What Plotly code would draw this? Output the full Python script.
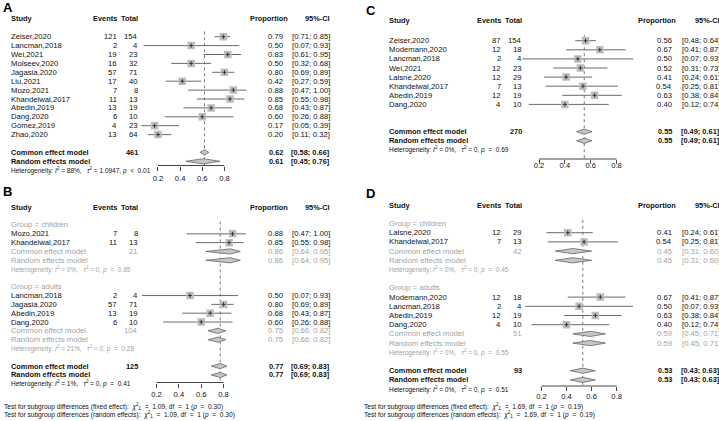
import plotly.graph_objects as go

# ---------------- DATA ----------------
# Panel A
a_study = ["Zeiser,2020", "Lancman,2018", "Wei,2021", "Moiseev,2020", "Jagasia,2020", "Liu,2021",
           "Mozo,2021", "Khandelwal,2017", "Abedin,2019", "Dang,2020", "Gómez,2019", "Zhao,2020"]
a_events = [121, 2, 19, 16, 57, 17, 7, 11, 13, 6, 4, 13]
a_total = [154, 4, 23, 32, 71, 40, 8, 13, 19, 10, 23, 64]
a_prop = [0.79, 0.50, 0.83, 0.50, 0.80, 0.42, 0.88, 0.85, 0.68, 0.60, 0.17, 0.20]
a_lower = [0.71, 0.07, 0.61, 0.32, 0.69, 0.27, 0.47, 0.55, 0.43, 0.26, 0.05, 0.11]
a_upper = [0.85, 0.93, 0.95, 0.68, 0.89, 0.59, 1.00, 0.98, 0.87, 0.88, 0.39, 0.32]
a_common = [0.62, 0.58, 0.66]
a_random = [0.61, 0.45, 0.76]
a_n = 461
a_het = ["88%", "1.0947", "&lt;", "0.01"]

# Panel B (subgroups)
b_child_study = ["Mozo,2021", "Khandelwal,2017"]
b_child_events = [7, 11]
b_child_total = [8, 13]
b_child_prop = [0.88, 0.85]
b_child_lower = [0.47, 0.55]
b_child_upper = [1.00, 0.98]
b_child_common = [0.86, 0.64, 0.95]
b_child_random = [0.86, 0.64, 0.95]
b_child_n = 21
b_child_het = ["0%", "0", "=", "0.85"]

b_adult_study = ["Lancman,2018", "Jagasia,2020", "Abedin,2019", "Dang,2020"]
b_adult_events = [2, 57, 13, 6]
b_adult_total = [4, 71, 19, 10]
b_adult_prop = [0.50, 0.80, 0.68, 0.60]
b_adult_lower = [0.07, 0.69, 0.43, 0.26]
b_adult_upper = [0.93, 0.89, 0.87, 0.88]
b_adult_common = [0.75, 0.66, 0.82]
b_adult_random = [0.75, 0.66, 0.82]
b_adult_n = 104
b_adult_het = ["21%", "0", "=", "0.28"]

b_common = [0.77, 0.69, 0.83]
b_random = [0.77, 0.69, 0.83]
b_n = 125
b_het = ["1%", "0", "=", "0.41"]
b_test = ["1.09", "1", "0.30"]

# Panel C
c_study = ["Zeiser,2020", "Modemann,2020", "Lancman,2018", "Wei,2021", "Laisne,2020",
           "Khandelwal,2017", "Abedin,2019", "Dang,2020"]
c_events = [87, 12, 2, 12, 12, 7, 12, 4]
c_total = [154, 18, 4, 23, 29, 13, 19, 10]
c_prop = [0.56, 0.67, 0.50, 0.52, 0.41, 0.54, 0.63, 0.40]
c_lower = [0.48, 0.41, 0.07, 0.31, 0.24, 0.25, 0.38, 0.12]
c_upper = [0.64, 0.87, 0.93, 0.73, 0.61, 0.81, 0.84, 0.74]
c_common = [0.55, 0.49, 0.61]
c_random = [0.55, 0.49, 0.61]
c_n = 270
c_het = ["0%", "0", "=", "0.69"]

# Panel D (subgroups)
d_child_study = ["Laisne,2020", "Khandelwal,2017"]
d_child_events = [12, 7]
d_child_total = [29, 13]
d_child_prop = [0.41, 0.54]
d_child_lower = [0.24, 0.25]
d_child_upper = [0.61, 0.81]
d_child_common = [0.45, 0.31, 0.60]
d_child_random = [0.45, 0.31, 0.60]
d_child_n = 42
d_child_het = ["0%", "0", "=", "0.45"]

d_adult_study = ["Modemann,2020", "Lancman,2018", "Abedin,2019", "Dang,2020"]
d_adult_events = [12, 2, 12, 4]
d_adult_total = [18, 4, 19, 10]
d_adult_prop = [0.67, 0.50, 0.63, 0.40]
d_adult_lower = [0.41, 0.07, 0.38, 0.12]
d_adult_upper = [0.87, 0.93, 0.84, 0.74]
d_adult_common = [0.59, 0.45, 0.71]
d_adult_random = [0.59, 0.45, 0.71]
d_adult_n = 51
d_adult_het = ["0%", "0", "=", "0.55"]

d_common = [0.53, 0.43, 0.63]
d_random = [0.53, 0.43, 0.63]
d_n = 93
d_het = ["0%", "0", "=", "0.51"]
d_test = ["1.69", "1", "0.19"]

tick_vals = [0.2, 0.4, 0.6, 0.8]
tick_text = ["0.2", "0.4", "0.6", "0.8"]

# ---------------- STYLE ----------------
W, H = 719, 421
FONT = "Liberation Sans, Arial, Helvetica, sans-serif"
BLACK = "#111111"
GREY_T = "#a3a3a3"
SQ_FILL = "#bdbdbd"
CI_COL = "#6a6a6a"
DIA_FILL = "#c6c6c6"
DIA_LINE = "#666666"
REF_COL = "#7a7a7a"
FS = 7.7        # regular text
FS_B = 7.4      # bold text
FS_HET = 6.5    # heterogeneity line
FS_TEST = 6.6   # subgroup test lines
SP = "&nbsp;"

fig = go.Figure()
ann = []
shp = []


def fmt(v):
    return f"{v:.2f}"


def ci_txt(lo, hi):
    return f"[{lo:.2f}; {hi:.2f}]"


def make_panel(k, row0, sp, dom, x0, xu, axis_px, cols, standoff):
    sfx = "" if k == 1 else str(k)
    r_top = (dom[0] - row0) / sp
    r_bot = (dom[1] - row0) / sp
    fig.update_layout(**{
        "xaxis" + sfx: dict(domain=[x0 / W, (x0 + xu) / W], range=[0, 1], anchor="free",
                            position=1 - axis_px / H, side="bottom",
                            tickvals=tick_vals, ticktext=tick_text, ticks="outside", ticklen=4,
                            tickwidth=1, tickcolor="#444444", showline=False, showgrid=False,
                            zeroline=False, ticklabelstandoff=standoff,
                            tickfont=dict(family=FONT, size=7.6, color=BLACK), fixedrange=True),
        "yaxis" + sfx: dict(domain=[1 - dom[1] / H, 1 - dom[0] / H], range=[r_bot, r_top],
                            visible=False, anchor="free", position=0, fixedrange=True),
    })
    P = dict(xr="x" + sfx, yr="y" + sfx, sp=sp, cols=cols, axis_row=(axis_px - row0) / sp)
    shp.append(dict(type="line", xref=P["xr"], yref="paper", x0=tick_vals[0], x1=tick_vals[-1],
                    y0=1 - axis_px / H, y1=1 - axis_px / H, line=dict(color="#444444", width=1)))
    return P


def text(P, col_px, row, s, anchor="left", color=BLACK, size=None, bold=False):
    if size is None:
        size = FS_B if bold else FS
    if bold:
        s = f"<b>{s}</b>"
    ann.append(dict(x=col_px / W, xref="paper", y=row, yref=P["yr"], text=s, showarrow=False,
                    xanchor=anchor, yanchor="middle", borderpad=0, borderwidth=0,
                    font=dict(family=FONT, size=size, color=color)))


def header(P, row):
    c = P["cols"]
    text(P, c["study"], row, "Study", bold=True)
    text(P, c["ev"], row, "Events", "right", bold=True)
    text(P, c["tot"], row, "Total", "right", bold=True)
    text(P, c["ph"], row, "Proportion", "right", bold=True)
    text(P, c["ci"], row, "95%-CI", "right", bold=True)


def study_rows(P, rows, names, ev, tot, prop, lo, hi):
    c = P["cols"]
    xs, ys = [], []
    for r, n, e, t, p, l, h in zip(rows, names, ev, tot, prop, lo, hi):
        text(P, c["study"], r, n)
        text(P, c["ev"], r, str(e), "right")
        text(P, c["tot"], r, str(t), "right")
        text(P, c["est"], r, fmt(p), "right")
        text(P, c["ci"], r, ci_txt(l, h), "right")
        xs += [l, h, None]
        ys += [r, r, None]
    fig.add_trace(go.Scatter(x=xs, y=ys, xaxis=P["xr"], yaxis=P["yr"], mode="lines",
                             line=dict(color=CI_COL, width=1), hoverinfo="skip"))
    fig.add_trace(go.Scatter(x=prop, y=rows, xaxis=P["xr"], yaxis=P["yr"], mode="markers",
                             marker=dict(symbol="square", size=7.5, color=SQ_FILL, line=dict(width=0)),
                             hoverinfo="skip"))
    fig.add_trace(go.Scatter(x=prop, y=rows, xaxis=P["xr"], yaxis=P["yr"], mode="markers",
                             marker=dict(symbol="cross-thin", size=3, line=dict(color="#333333", width=1)),
                             hoverinfo="skip"))


def model_row(P, row, label, n, vals, color=BLACK, bold=True):
    c = P["cols"]
    est, lo, hi = vals
    text(P, c["study"], row, label, color=color, bold=bold)
    if n is not None:
        text(P, c["tot"], row, str(n), "right", color=color, bold=bold)
    text(P, c["est"], row, fmt(est), "right", color=color, bold=bold)
    text(P, c["ci"], row, ci_txt(lo, hi), "right", color=color, bold=bold)
    hh = 2.6 / P["sp"]
    fig.add_trace(go.Scatter(x=[lo, est, hi, est, lo], y=[row, row - hh, row, row + hh, row],
                             xaxis=P["xr"], yaxis=P["yr"], mode="lines", fill="toself",
                             fillcolor=DIA_FILL, line=dict(color=DIA_LINE, width=0.8),
                             hoverinfo="skip"))


def het_row(P, row, het, color=BLACK):
    s = (f"Heterogeneity: <i>I</i><sup>2</sup>{SP}={SP}{het[0]},{SP}{SP}{SP}<i>τ</i><sup>2</sup>{SP}={SP}{het[1]},"
         f"{SP}<i>p</i>{SP}{SP}{het[2]}{SP}{SP}{het[3]}")
    text(P, P["cols"]["study"], row, s, color=color, size=FS_HET)


def test_rows(P, x_px, rows, t):
    for r, kind in zip(rows, ["fixed effect", "random effects"]):
        s = (f"Test for subgroup differences ({kind}):{SP}{SP}<i>χ</i><sup>2</sup><sub>{t[1]}</sub>"
             f"{SP}{SP}={SP}{SP}{t[0]}, df{SP}{SP}={SP}{SP}{t[1]}{SP}(<i>p</i>{SP}{SP}={SP}{SP}{t[2]})")
        text(P, x_px, r, s, size=FS_TEST)


def ref_line(P, x, top_row):
    fig.add_trace(go.Scatter(x=[x, x], y=[top_row, P["axis_row"]], xaxis=P["xr"], yaxis=P["yr"],
                             mode="lines", line=dict(color=REF_COL, width=1, dash="dot"),
                             hoverinfo="skip"))


def panel_label(x_px, y_px, s):
    ann.append(dict(x=x_px / W, y=1 - y_px / H, xref="paper", yref="paper", text=f"<b>{s}</b>",
                    showarrow=False, xanchor="left", yanchor="middle",
                    font=dict(family=FONT, size=13, color="#000000")))


cols_left = dict(study=11, ev=117.3, tot=137.7, est=282.7, ph=287.5, ci=329.5)
cols_right = dict(study=389.3, ev=501.5, tot=521.5, est=671.7, ph=675.5, ci=719.5)

# ---------------- PANEL A ----------------
PA = make_panel(1, 36.7, 8.9, (0, 188), 135.8, 110.8, 165.5, cols_left, 1)
ref_line(PA, a_common[0], -0.6)
header(PA, -2)
study_rows(PA, list(range(len(a_study))), a_study, a_events, a_total, a_prop, a_lower, a_upper)
model_row(PA, 13, "Common effect model", a_n, a_common)
model_row(PA, 14, "Random effects model", None, a_random)
het_row(PA, 15, a_het)
panel_label(1, 8, "A")

# ---------------- PANEL B ----------------
PB = make_panel(2, 225, 8.82, (188, 421), 134.2, 111.7, 382.5, cols_left, 0)
ref_line(PB, b_common[0], -0.4)
header(PB, -2)
text(PB, cols_left["study"], 0, "Group = children", color=GREY_T)
study_rows(PB, [1, 2], b_child_study, b_child_events, b_child_total, b_child_prop,
           b_child_lower, b_child_upper)
model_row(PB, 3, "Common effect model", b_child_n, b_child_common, GREY_T, False)
model_row(PB, 4, "Random effects model", None, b_child_random, GREY_T, False)
het_row(PB, 5, b_child_het, GREY_T)
text(PB, cols_left["study"], 7, "Group = adults", color=GREY_T)
study_rows(PB, [8, 9, 10, 11], b_adult_study, b_adult_events, b_adult_total, b_adult_prop,
           b_adult_lower, b_adult_upper)
model_row(PB, 12, "Common effect model", b_adult_n, b_adult_common, GREY_T, False)
model_row(PB, 13, "Random effects model", None, b_adult_random, GREY_T, False)
het_row(PB, 14, b_adult_het, GREY_T)
model_row(PB, 16, "Common effect model", b_n, b_common)
model_row(PB, 17, "Random effects model", None, b_random)
het_row(PB, 18, b_het)
test_rows(PB, 4, [20.55, 21.45], b_test)
panel_label(1, 192, "B")

# ---------------- PANEL C ----------------
PC = make_panel(3, 40.7, 9.1, (0, 188), 513.2, 129.2, 159, cols_right, -5)
ref_line(PC, c_common[0], -0.6)
header(PC, -2.2)
study_rows(PC, list(range(len(c_study))), c_study, c_events, c_total, c_prop, c_lower, c_upper)
model_row(PC, 10, "Common effect model", c_n, c_common)
model_row(PC, 11, "Random effects model", None, c_random)
het_row(PC, 12, c_het)
panel_label(364, 11, "C")

# ---------------- PANEL D ----------------
PD = make_panel(4, 223.5, 9.2, (188, 421), 516.4, 125.3, 386, cols_right, -1)
ref_line(PD, d_common[0], -0.4)
header(PD, -2)
text(PD, cols_right["study"], 0, "Group = children", color=GREY_T)
study_rows(PD, [1, 2], d_child_study, d_child_events, d_child_total, d_child_prop,
           d_child_lower, d_child_upper)
model_row(PD, 3, "Common effect model", d_child_n, d_child_common, GREY_T, False)
model_row(PD, 4, "Random effects model", None, d_child_random, GREY_T, False)
het_row(PD, 5, d_child_het, GREY_T)
text(PD, cols_right["study"], 7, "Group = adults", color=GREY_T)
study_rows(PD, [8, 9, 10, 11], d_adult_study, d_adult_events, d_adult_total, d_adult_prop,
           d_adult_lower, d_adult_upper)
model_row(PD, 12, "Common effect model", d_adult_n, d_adult_common, GREY_T, False)
model_row(PD, 13, "Random effects model", None, d_adult_random, GREY_T, False)
het_row(PD, 14, d_adult_het, GREY_T)
model_row(PD, 16, "Common effect model", d_n, d_common)
model_row(PD, 17, "Random effects model", None, d_random)
het_row(PD, 18, d_het)
test_rows(PD, 364, [19.9, 20.8], d_test)
panel_label(364, 193, "D")

fig.update_layout(width=W, height=H, margin=dict(l=0, r=0, t=0, b=0), showlegend=False,
                  paper_bgcolor="white", plot_bgcolor="rgba(0,0,0,0)",
                  annotations=ann, shapes=shp, font=dict(family=FONT))

fig.write_html("out.html", config={"displayModeBar": False},
               post_script=["document.body.style.margin='0';document.body.style.overflow='hidden';"])
